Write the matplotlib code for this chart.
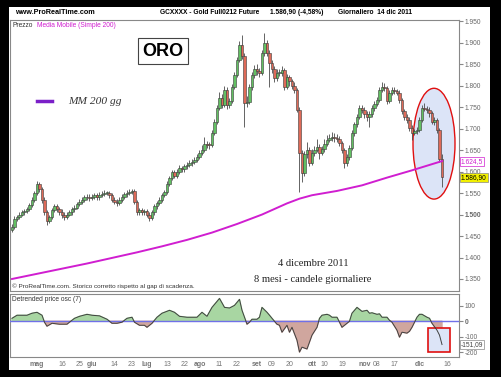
import matplotlib
matplotlib.use("Agg")
import matplotlib.pyplot as plt
from matplotlib.patches import Ellipse, Rectangle
from matplotlib.lines import Line2D
import numpy as np
import pandas as pd

plt.rcParams['font.family'] = ['Liberation Sans', 'DejaVu Sans']

########## DATA ##########
# daily closes, gold future, 18 apr 2011 - 14 dic 2011
closes = [1470, 1490, 1495, 1500, 1505, 1508, 1512, 1522, 1535, 1550,
          1570, 1560, 1535, 1505, 1485, 1495, 1510, 1519, 1512, 1507,
          1500, 1495, 1500, 1505, 1512, 1516, 1525, 1530, 1535, 1540,
          1542, 1538, 1542, 1545, 1540, 1546, 1548, 1551, 1551, 1545,
          1535, 1530, 1528, 1535, 1542, 1547, 1551, 1553, 1555, 1530,
          1507, 1510, 1505, 1508, 1500, 1493, 1505, 1519, 1527, 1535,
          1545, 1553, 1572, 1585, 1598, 1590, 1600, 1609, 1605, 1612,
          1616, 1620, 1623, 1628, 1635, 1644, 1650, 1665, 1663, 1662,
          1690, 1716, 1749, 1772, 1755, 1790, 1755, 1765, 1798, 1825,
          1860, 1895, 1870, 1760, 1763, 1797, 1825, 1840, 1835, 1830,
          1875, 1900, 1877, 1853, 1840, 1818, 1830, 1830, 1837, 1798,
          1821, 1810, 1800, 1790, 1744, 1644, 1597, 1640, 1651, 1621,
          1644, 1650, 1658, 1644, 1652, 1665, 1674, 1679, 1681, 1679,
          1675, 1667, 1651, 1621, 1635, 1656, 1690, 1710, 1728, 1749,
          1744, 1735, 1726, 1733, 1748, 1758, 1767, 1791, 1798, 1795,
          1765, 1784, 1791, 1787, 1784, 1767, 1740, 1728, 1721, 1702,
          1691, 1694, 1698, 1721, 1749, 1746, 1744, 1737, 1716, 1720,
          1698, 1630, 1586.9]
first_open = 1465
highs = [1478, 1496, 1500, 1506, 1510, 1514, 1518, 1526, 1540, 1556,
         1578, 1576, 1565, 1540, 1510, 1500, 1516, 1525, 1524, 1517,
         1512, 1506, 1505, 1510, 1517, 1522, 1530, 1536, 1540, 1546,
         1548, 1547, 1548, 1551, 1550, 1552, 1554, 1557, 1556, 1556,
         1550, 1540, 1536, 1540, 1548, 1553, 1557, 1559, 1560, 1560,
         1535, 1516, 1515, 1514, 1513, 1505, 1510, 1524, 1532, 1540,
         1550, 1558, 1577, 1590, 1603, 1604, 1606, 1615, 1614, 1618,
         1622, 1626, 1629, 1634, 1641, 1650, 1662, 1680, 1672, 1668,
         1696, 1722, 1755, 1785, 1780, 1800, 1796, 1772, 1805, 1832,
         1868, 1905, 1918, 1875, 1775, 1805, 1832, 1848, 1850, 1842,
         1882, 1923, 1906, 1882, 1860, 1845, 1838, 1838, 1845, 1842,
         1828, 1826, 1815, 1808, 1795, 1750, 1650, 1648, 1668, 1658,
         1652, 1660, 1675, 1664, 1660, 1675, 1685, 1688, 1692, 1690,
         1688, 1682, 1672, 1656, 1642, 1662, 1696, 1716, 1735, 1756,
         1756, 1750, 1740, 1740, 1754, 1764, 1774, 1798, 1809, 1806,
         1800, 1790, 1798, 1797, 1792, 1789, 1772, 1746, 1733, 1726,
         1708, 1700, 1705, 1727, 1756, 1760, 1752, 1750, 1742, 1726,
         1725, 1702, 1640]
lows = [1460, 1466, 1486, 1490, 1496, 1500, 1503, 1508, 1518, 1530,
        1546, 1552, 1528, 1498, 1476, 1480, 1490, 1505, 1506, 1500,
        1493, 1488, 1490, 1496, 1500, 1507, 1512, 1520, 1525, 1530,
        1534, 1532, 1533, 1537, 1534, 1535, 1541, 1543, 1545, 1539,
        1529, 1524, 1520, 1522, 1530, 1537, 1542, 1545, 1547, 1524,
        1500, 1500, 1498, 1499, 1494, 1485, 1488, 1500, 1514, 1522,
        1530, 1540, 1549, 1567, 1580, 1584, 1585, 1595, 1599, 1600,
        1607, 1611, 1614, 1618, 1623, 1630, 1638, 1645, 1655, 1652,
        1658, 1685, 1710, 1744, 1748, 1750, 1745, 1748, 1760, 1792,
        1820, 1855, 1862, 1705, 1750, 1758, 1790, 1818, 1825, 1820,
        1825, 1870, 1870, 1797, 1830, 1808, 1810, 1822, 1822, 1790,
        1792, 1800, 1792, 1782, 1738, 1553, 1575, 1590, 1632, 1612,
        1615, 1636, 1645, 1630, 1638, 1646, 1660, 1668, 1672, 1670,
        1668, 1660, 1643, 1609, 1614, 1628, 1650, 1684, 1704, 1722,
        1736, 1725, 1718, 1705, 1727, 1742, 1752, 1762, 1786, 1788,
        1758, 1760, 1778, 1780, 1778, 1760, 1733, 1720, 1714, 1695,
        1674, 1685, 1688, 1693, 1716, 1740, 1736, 1728, 1710, 1708,
        1690, 1622, 1565]

# Media mobile semplice 200 (indice = giorno di borsa)
ma_idx = [0, 10, 20, 30, 40, 50, 60, 70, 80, 90, 100, 110, 115, 120, 130, 140, 150, 160, 172]
ma_val = [1350, 1362, 1374, 1386, 1399, 1412, 1426, 1441, 1458, 1478, 1500, 1526, 1537,
          1545, 1555, 1568, 1586, 1603, 1624.5]

# Detrended price osc (7)
osc_idx = [0, 2, 6, 8, 10, 12, 13, 14, 16, 19, 22, 23, 25, 27, 30, 32, 35, 38, 40, 42,
           44, 46, 48, 49, 51, 53, 54, 56, 58, 60, 63, 65, 67, 70, 72, 74, 76, 78, 80, 83,
           85, 87, 89, 91, 92, 94, 95, 96, 98, 99, 100, 102, 103, 104, 106, 107, 108, 110,
           111, 112, 114, 115, 116, 118, 119, 120, 122, 123, 124, 126, 127, 128, 130, 131,
           132, 134, 135, 136, 138, 139, 140, 142, 143, 144, 146, 147, 148, 150, 151, 152,
           154, 155, 156, 158, 159, 160, 162, 163, 164, 166, 167, 168, 170, 171, 172]
osc_val = [19, 39, 39, 52, 58, 39, -6, -32, -13, -19, -19, -6, 19, 32, 45, 39, 35, 13, -13, -13,
           -6, 19, 26, -6, -26, -26, -39, -13, 26, 52, 71, 58, 32, 26, 26, 26, 58, 32, 90, 148,
           90, 86, 103, 142, 71, -19, -6, 13, 13, 26, 90, 58, 39, 19, -19, -26, -71, -26,
           -71, -39, -123, -200, -168, -180, -135, -90, -39, 19, 39, 45, 39, 26, 26, -6,
           -39, -13, 0, 52, 90, 77, 64, 71, 52, 55, 45, 48, 26, 26, 6, -6,
           -58, -103, -71, -77, -65, -39, 26, 45, 45, 26, 19, -13, -58, -90, -151.09]

tick_dates = ['2011-05-02', '2011-05-16', '2011-05-25', '2011-06-01', '2011-06-14', '2011-06-23',
              '2011-07-01', '2011-07-13', '2011-07-22', '2011-08-01', '2011-08-11', '2011-08-22',
              '2011-09-01', '2011-09-09', '2011-09-20', '2011-10-03', '2011-10-10', '2011-10-19',
              '2011-11-01', '2011-11-08', '2011-11-17', '2011-12-01', '2011-12-16']
tick_labels = ['mag', '16', '25', 'giu', '14', '23', 'lug', '13', '22', 'ago', '11', '22',
               'set', '09', '20', 'ott', '10', '19', 'nov', '08', '17', 'dic', '16']
month_labels = ['mag', 'giu', 'lug', 'ago', 'set', 'ott', 'nov', 'dic']

price_ticks = [1350, 1400, 1450, 1500, 1550, 1600, 1650, 1700, 1750, 1800, 1850, 1900, 1950]
osc_ticks = [100, 0, -100, -200]

########## FIGURE ##########
days = pd.bdate_range('2011-04-18', '2011-12-30')
x = np.arange(len(closes))
opens = [first_open] + closes[:-1]
tick_pos = [days.get_loc(pd.Timestamp(d)) for d in tick_dates]

W, H = 502, 377
fig = plt.figure(figsize=(5.02, 3.77), dpi=100)
fig.patch.set_facecolor('black')
fig.patches.append(Rectangle((9 / W, 7 / H), 481 / W, 363 / H, transform=fig.transFigure,
                             facecolor='white', edgecolor='none', zorder=-10))

def fx(px):
    return px / W

def fy(py):
    return 1 - py / H

ax = fig.add_axes([fx(10), fy(291), 449 / W, 271 / H])
ax2 = fig.add_axes([fx(10), fy(357), 449 / W, 63 / H])

# candles
for i in x:
    o, c = opens[i], closes[i]
    col = '#62c062' if c >= o else '#de6a58'
    ax.vlines(i, lows[i], highs[i], color='#4a4a4a', lw=0.6, zorder=3)
    ax.bar(i, max(abs(c - o), 1.5), bottom=min(o, c), width=0.9, color=col,
           edgecolor='#3a3a3a', linewidth=0.4, zorder=4)

ax.plot(ma_idx, ma_val, color='#d01ed0', lw=1.4, zorder=5)
ax.add_patch(Ellipse((168.8, 1665), 16.8, 258, facecolor='#dce4f7', edgecolor='#e01010',
                     lw=1.0, zorder=2))

ax.set_xlim(-0.8, 178.8)
ax.set_ylim(1322, 1953)
ax.set_xticks([])
ax.yaxis.tick_right()
ax.set_yticks(price_ticks)
ax.set_yticklabels([f"{v / 1000:.3f}" for v in price_ticks])
for lab, v in zip(ax.get_yticklabels(), price_ticks):
    if v == 1500:
        lab.set_fontweight('bold')
        lab.set_color('black')
ax.tick_params(axis='y', labelsize=4.8, labelcolor='#666666', color='#888888', length=3, pad=1)
for s in ax.spines.values():
    s.set_color('#888888')
    s.set_linewidth(0.8)

ax.text(1.004, 1624.5, '1.624,5', transform=ax.get_yaxis_transform(), fontsize=4.8,
        color='#d01ed0', va='center', ha='left', zorder=10,
        bbox=dict(boxstyle='square,pad=0.15', facecolor='white', edgecolor='#d01ed0', lw=0.5))
ax.text(1.004, 1586.9, '1.586,90', transform=ax.get_yaxis_transform(), fontsize=4.8,
        color='black', va='center', ha='left', zorder=10,
        bbox=dict(boxstyle='square,pad=0.15', facecolor='#f2f000', edgecolor='#888888', lw=0.5))

ax.text(0.005, 0.993, 'Prezzo', transform=ax.transAxes, fontsize=4.8, color='#333333', va='top')
ax.text(0.06, 0.993, 'Media Mobile (Simple 200)', transform=ax.transAxes, fontsize=4.8,
        color='#d01ed0', va='top')
ax.text(0.005, 0.008, '\u00a9 ProRealTime.com. Storico corretto rispetto al gap di scadenza.',
        transform=ax.transAxes, fontsize=4.6, color='#333333', va='bottom')

# oscillator
ax2.fill_between(osc_idx, osc_val, 0, where=[v >= 0 for v in osc_val], interpolate=True,
                 color='#a8d6a2', zorder=2)
ax2.fill_between(osc_idx, osc_val, 0, where=[v <= 0 for v in osc_val], interpolate=True,
                 color='#d0a69e', zorder=2)
ax2.add_patch(Rectangle((166.4, -200), 8.8, 155, facecolor='#dce4f7', edgecolor='#e01010',
                        lw=1.2, zorder=3))
ax2.axhline(0, color='#7070e8', lw=1.0, zorder=4)
ax2.plot(osc_idx, osc_val, color='#404040', lw=0.7, zorder=5)
ax2.set_xlim(-0.8, 178.8)
ax2.set_ylim(-232, 177)
ax2.yaxis.tick_right()
ax2.set_yticks(osc_ticks)
ax2.set_yticklabels([str(v) for v in osc_ticks])
for lab, v in zip(ax2.get_yticklabels(), osc_ticks):
    if v == 0:
        lab.set_fontweight('bold')
        lab.set_color('black')
ax2.tick_params(axis='y', labelsize=4.8, labelcolor='#666666', color='#888888', length=3, pad=1)
ax2.text(1.004, -151.09, '-151,09', transform=ax2.get_yaxis_transform(), fontsize=4.8,
         color='#444444', va='center', ha='left', zorder=10,
         bbox=dict(boxstyle='square,pad=0.15', facecolor='white', edgecolor='#888888', lw=0.5))
ax2.set_xticks(tick_pos)
ax2.set_xticklabels(tick_labels)
for lab, t in zip(ax2.get_xticklabels(), tick_labels):
    if t in month_labels:
        lab.set_fontweight('bold')
        lab.set_color('#222222')
ax2.tick_params(axis='x', labelsize=5, labelcolor='#777777', length=0, pad=3)
ax2.text(0.005, 0.97, 'Detrended price osc (7)', transform=ax2.transAxes, fontsize=4.8,
         color='#333333', va='top')
for s in ax2.spines.values():
    s.set_color('#888888')
    s.set_linewidth(0.8)

# header and annotations
fig.text(fx(15), fy(13), 'www.ProRealTime.com', fontsize=5.2, fontweight='bold', va='center')
fig.text(fx(160), fy(13), 'GCXXXX - Gold Full0212 Future', fontsize=4.8, fontweight='bold',
         va='center')
fig.text(fx(270), fy(13), '1.586,90 (-4,58%)', fontsize=4.8, fontweight='bold', va='center')
fig.text(fx(338), fy(13), 'Giornaliero  14 dic 2011', fontsize=4.8, fontweight='bold',
         va='center')
fig.text(fx(163), fy(51), 'ORO', fontsize=13, fontweight='bold', ha='center', va='center',
         bbox=dict(boxstyle='square,pad=0.25', facecolor='white', edgecolor='#444444', lw=0.8))
fig.add_artist(Line2D([fx(37), fx(52)], [fy(101), fy(101)], color='#7b1fc8', lw=2.5,
                      transform=fig.transFigure))
fig.text(fx(68), fy(101), 'MM 200 gg', fontsize=8.2, style='italic', family='Liberation Serif',
         color='#333333', va='center')
fig.text(fx(313), fy(263), '4 dicembre 2011', fontsize=7.6, family='Liberation Serif',
         ha='center', va='center', color='#222222')
fig.text(fx(313), fy(279), '8 mesi - candele giornaliere', fontsize=7.6, family='Liberation Serif',
         ha='center', va='center', color='#222222')

fig.savefig('out.png', dpi=100, facecolor=fig.get_facecolor())
